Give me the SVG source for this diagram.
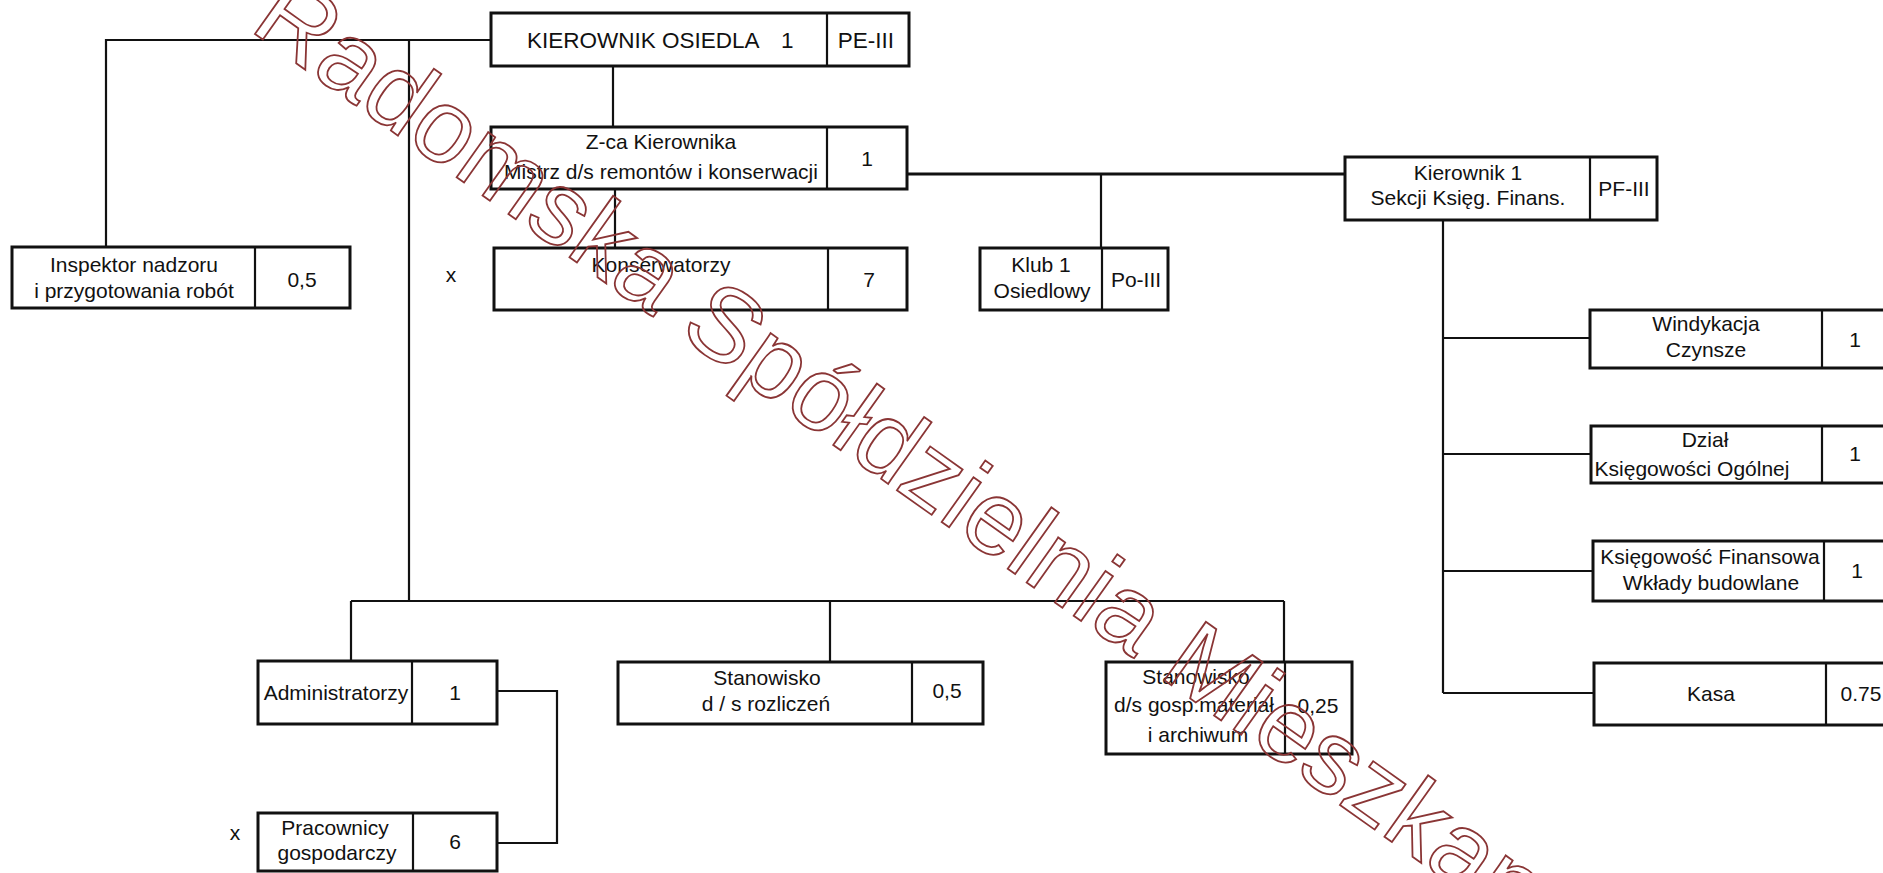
<svg xmlns="http://www.w3.org/2000/svg" width="1883" height="873" viewBox="0 0 1883 873">
<style>
.bx{fill:#fff;stroke:#111;stroke-width:3}
.dv{stroke:#111;stroke-width:2.2}
.cn{fill:none;stroke:#111;stroke-width:2.2}
.t{font-family:"Liberation Sans",Arial,sans-serif;font-size:21px;fill:#111;text-anchor:middle}
.tl{font-family:"Liberation Sans",Arial,sans-serif;font-size:22.5px;fill:#111}
.wm{font-family:"Liberation Sans",Arial,sans-serif;font-size:104px;fill:none;stroke:#8a3535;stroke-width:1.8}
</style>
<rect width="1883" height="873" fill="#fff"/>
<g id="connectors">
<polyline class="cn" points="491,40 106,40 106,247"/>
<line class="cn" x1="409" y1="40" x2="409" y2="601"/>
<line class="cn" x1="613" y1="66" x2="613" y2="127"/>
<line class="cn" x1="615" y1="189" x2="615" y2="248"/>
<line class="cn" x1="907" y1="174" x2="1345" y2="174" style="stroke-width:2.8"/>
<line class="cn" x1="1101" y1="174" x2="1101" y2="248"/>
<line class="cn" x1="1443" y1="220" x2="1443" y2="693"/>
<line class="cn" x1="1443" y1="338" x2="1590" y2="338"/>
<line class="cn" x1="1443" y1="454" x2="1591" y2="454"/>
<line class="cn" x1="1443" y1="571" x2="1593" y2="571"/>
<line class="cn" x1="1443" y1="693" x2="1594" y2="693"/>
<line class="cn" x1="351" y1="601" x2="1284" y2="601"/>
<line class="cn" x1="351" y1="601" x2="351" y2="661"/>
<line class="cn" x1="830" y1="601" x2="830" y2="662"/>
<line class="cn" x1="1284" y1="601" x2="1284" y2="662"/>
<polyline class="cn" points="497,691 557,691 557,843 497,843"/>
</g>
<g id="kierownik-osiedla">
<rect class="bx" x="491" y="13" width="418" height="53"/>
<line class="dv" x1="827" y1="13" x2="827" y2="66"/>
<text class="tl" x="527" y="48">KIEROWNIK OSIEDLA</text>
<text class="tl" x="781" y="48">1</text>
<text class="tl" x="866" y="48" text-anchor="middle">PE-III</text>
</g>
<g id="z-ca-kierownika">
<rect class="bx" x="491" y="127" width="416" height="62"/>
<line class="dv" x1="827" y1="127" x2="827" y2="189"/>
<text class="t" x="661" y="149">Z-ca Kierownika</text>
<text class="t" x="661" y="179">Mistrz d/s remontów i konserwacji</text>
<text class="t" x="867" y="166">1</text>
</g>
<g id="konserwatorzy">
<text class="t" x="451" y="282">x</text>
<rect class="bx" x="494" y="248" width="413" height="62"/>
<line class="dv" x1="828" y1="248" x2="828" y2="310"/>
<text class="t" x="661" y="272">Konserwatorzy</text>
<text class="t" x="869" y="287">7</text>
</g>
<g id="inspektor">
<rect class="bx" x="12" y="247" width="338" height="61"/>
<line class="dv" x1="255" y1="247" x2="255" y2="308"/>
<text class="t" x="134" y="272">Inspektor nadzoru</text>
<text class="t" x="134" y="298">i przygotowania robót</text>
<text class="t" x="302" y="287">0,5</text>
</g>
<g id="klub">
<rect class="bx" x="980" y="248" width="188" height="62"/>
<line class="dv" x1="1102" y1="248" x2="1102" y2="310"/>
<text class="t" x="1041" y="272">Klub  1</text>
<text class="t" x="1042" y="298">Osiedlowy</text>
<text class="t" x="1136" y="287">Po-III</text>
</g>
<g id="kierownik-sekcji">
<rect class="bx" x="1345" y="157" width="312" height="63"/>
<line class="dv" x1="1590" y1="157" x2="1590" y2="220"/>
<text class="t" x="1468" y="180">Kierownik    1</text>
<text class="t" x="1468" y="205">Sekcji Księg. Finans.</text>
<text class="t" x="1624" y="196">PF-III</text>
</g>
<g id="windykacja">
<rect class="bx" x="1590" y="310" width="310" height="58"/>
<line class="dv" x1="1822" y1="310" x2="1822" y2="368"/>
<text class="t" x="1706" y="331">Windykacja</text>
<text class="t" x="1706" y="357">Czynsze</text>
<text class="t" x="1855" y="347">1</text>
</g>
<g id="dzial">
<rect class="bx" x="1591" y="426" width="310" height="57"/>
<line class="dv" x1="1822" y1="426" x2="1822" y2="483"/>
<text class="t" x="1705" y="447">Dział</text>
<text class="t" x="1692" y="476">Księgowości Ogólnej</text>
<text class="t" x="1855" y="461">1</text>
</g>
<g id="ksiegowosc-finansowa">
<rect class="bx" x="1593" y="541" width="310" height="60"/>
<line class="dv" x1="1824" y1="541" x2="1824" y2="601"/>
<text class="t" x="1710" y="564">Księgowość Finansowa</text>
<text class="t" x="1711" y="590">Wkłady budowlane</text>
<text class="t" x="1857" y="578">1</text>
</g>
<g id="kasa">
<rect class="bx" x="1594" y="663" width="310" height="62"/>
<line class="dv" x1="1826" y1="663" x2="1826" y2="725"/>
<text class="t" x="1711" y="701">Kasa</text>
<text class="t" x="1861" y="701">0.75</text>
</g>
<g id="administratorzy">
<rect class="bx" x="258" y="661" width="239" height="63"/>
<line class="dv" x1="412" y1="661" x2="412" y2="724"/>
<text class="t" x="336" y="700">Administratorzy</text>
<text class="t" x="455" y="700">1</text>
</g>
<g id="pracownicy">
<text class="t" x="235" y="840">x</text>
<rect class="bx" x="258" y="813" width="239" height="58"/>
<line class="dv" x1="413" y1="813" x2="413" y2="871"/>
<text class="t" x="335" y="835">Pracownicy</text>
<text class="t" x="337" y="860">gospodarczy</text>
<text class="t" x="455" y="849">6</text>
</g>
<g id="stanowisko-rozliczen">
<rect class="bx" x="618" y="662" width="365" height="62"/>
<line class="dv" x1="912" y1="662" x2="912" y2="724"/>
<text class="t" x="767" y="685">Stanowisko</text>
<text class="t" x="766" y="711">d / s rozliczeń</text>
<text class="t" x="947" y="698">0,5</text>
</g>
<g id="stanowisko-gosp">
<rect class="bx" x="1106" y="662" width="246" height="92"/>
<line class="dv" x1="1285" y1="662" x2="1285" y2="754"/>
<text class="t" x="1196" y="684">Stanowisko</text>
<text class="t" x="1194" y="712">d/s gosp.materiał</text>
<text class="t" x="1198" y="742">i archiwum</text>
<text class="t" x="1318" y="713">0,25</text>
</g>
<text class="wm" x="248" y="29" transform="rotate(35.4 248 29)">Radomska Spółdzielnia Mieszkan</text>
</svg>
